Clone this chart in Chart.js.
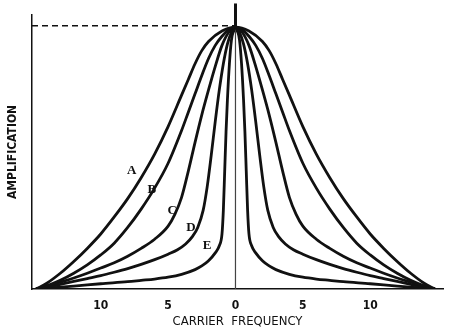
<!DOCTYPE html>
<html>
<head>
<meta charset="utf-8">
<script src="https://cdn.jsdelivr.net/npm/chart.js@4"></script>
<style>
  body { margin: 0; background: #fff; }
</style>
</head>
<body>
<canvas id="resonanceChart" width="457" height="333"></canvas>
<script>
// Resonance curves (offset from carrier, relative amplification)
const curveNames = ["A", "B", "C", "D", "E"];

const offsetA = [0, 1, 2, 2.5, 3, 3.5, 4, 5, 6, 7, 8, 9, 10, 11, 12, 13, 14, 14.8];
const ampA = [1, 0.985, 0.945, 0.91, 0.86, 0.8, 0.74, 0.62, 0.515, 0.425, 0.345, 0.275, 0.21, 0.155, 0.105, 0.06, 0.022, 0];

const offsetB = [0, 0.5, 1, 1.5, 2, 2.5, 3, 3.5, 4, 5, 6, 7, 8, 9, 10, 11, 12, 13, 14, 14.8];
const ampB = [1, 0.99, 0.965, 0.93, 0.88, 0.815, 0.745, 0.675, 0.605, 0.48, 0.385, 0.305, 0.235, 0.175, 0.13, 0.092, 0.06, 0.033, 0.012, 0];

const offsetC = [0, 0.5, 1, 1.5, 2, 2.5, 3, 3.5, 4, 4.5, 5, 6, 7, 8, 9, 10, 11, 12, 13, 14, 14.8];
const ampC = [1, 0.98, 0.93, 0.85, 0.76, 0.665, 0.56, 0.45, 0.35, 0.285, 0.24, 0.19, 0.155, 0.125, 0.1, 0.08, 0.06, 0.042, 0.026, 0.01, 0];

const offsetD = [0, 0.3, 0.6, 0.9, 1.2, 1.5, 1.8, 2.1, 2.4, 2.8, 3.2, 3.7, 4.3, 5, 6, 7, 8, 9, 10, 11, 12, 13, 14, 14.8];
const ampD = [1, 0.98, 0.935, 0.86, 0.76, 0.64, 0.51, 0.39, 0.3, 0.235, 0.2, 0.172, 0.15, 0.133, 0.112, 0.094, 0.078, 0.064, 0.051, 0.04, 0.029, 0.018, 0.007, 0];

const offsetE = [0, 0.15, 0.3, 0.45, 0.6, 0.7, 0.8, 0.9, 1, 1.2, 1.5, 2, 2.5, 3, 4, 5, 6, 7, 8, 10, 12, 13.5, 14.8];
const ampE = [1, 0.985, 0.95, 0.86, 0.72, 0.6, 0.45, 0.3, 0.21, 0.165, 0.138, 0.108, 0.088, 0.074, 0.056, 0.045, 0.038, 0.033, 0.028, 0.02, 0.011, 0.005, 0];

const xTicks = [-10, -5, 0, 5, 10];

// where the curve letters sit on the plate (frequency, amplification)
const labelX = [-7.7, -6.2, -4.7, -3.3, -2.1];
const labelY = [0.45, 0.38, 0.30, 0.235, 0.165];

// curves are symmetric about the carrier: plot both sidebands
function bothSides(offsets, amps) {
  const pts = [];
  for (let i = offsets.length - 1; i > 0; i--) pts.push({ x: -offsets[i], y: amps[i] });
  for (let i = 0; i < offsets.length; i++) pts.push({ x: offsets[i], y: amps[i] });
  return pts;
}

const curves = [
  bothSides(offsetA, ampA),
  bothSides(offsetB, ampB),
  bothSides(offsetC, ampC),
  bothSides(offsetD, ampD),
  bothSides(offsetE, ampE),
];

const ink = "#111";
const fontFamily = "'DejaVu Sans Condensed', 'DejaVu Sans'";

const datasets = curves.map((pts, i) => ({
  label: curveNames[i],
  data: pts,
  borderColor: ink,
  borderWidth: 2.8,
  pointRadius: 0,
  cubicInterpolationMode: "monotone",
  fill: false,
}));

// carrier line and the level of the peak
datasets.push({
  label: "carrier",
  data: [{ x: 0, y: 0 }, { x: 0, y: 1 }],
  borderColor: "#444",
  borderWidth: 1.2,
  pointRadius: 0,
});
datasets.push({
  label: "carrier top",
  data: [{ x: 0, y: 0.98 }, { x: 0, y: 1.09 }],
  borderColor: ink,
  borderWidth: 3,
  pointRadius: 0,
  clip: false,
});
datasets.push({
  label: "peak level",
  data: [{ x: -15.1, y: 1.005 }, { x: 0, y: 1.005 }],
  borderColor: ink,
  borderWidth: 1.6,
  borderDash: [6, 4],
  pointRadius: 0,
});

const curveLetters = {
  id: "curveLetters",
  afterDatasetsDraw(chart) {
    const { ctx, scales } = chart;
    ctx.save();
    ctx.fillStyle = ink;
    ctx.font = "bold 13px 'Liberation Serif'";
    ctx.textAlign = "center";
    ctx.textBaseline = "middle";
    curveNames.forEach((name, i) => {
      ctx.fillText(name, scales.x.getPixelForValue(labelX[i]), scales.y.getPixelForValue(labelY[i]));
    });
    ctx.restore();
  },
};

new Chart(document.getElementById("resonanceChart").getContext("2d"), {
  type: "line",
  data: { datasets: datasets },
  plugins: [curveLetters],
  options: {
    responsive: false,
    animation: false,
    layout: { padding: { top: 15, right: 14, left: 7, bottom: 5 } },
    plugins: { legend: { display: false }, tooltip: { enabled: false } },
    scales: {
      x: {
        type: "linear",
        min: -15.1,
        max: 15.4,
        grid: { display: false },
        border: { display: true, color: ink, width: 1.5 },
        afterBuildTicks: (axis) => {
          axis.ticks = xTicks.map((v) => ({ value: v }));
        },
        ticks: {
          color: ink,
          font: { family: fontFamily, size: 12, weight: "bold", lineHeight: 1 },
          padding: 3,
          callback: (v) => Math.abs(v),
        },
        title: {
          display: true,
          text: "CARRIER  FREQUENCY",
          color: ink,
          font: { family: fontFamily, size: 13, lineHeight: 1 },
          padding: { top: 0, bottom: 0 },
        },
      },
      y: {
        min: 0,
        max: 1.046,
        grid: { display: false },
        border: { display: true, color: ink, width: 1.5 },
        ticks: { display: false },
        title: {
          display: true,
          text: "AMPLIFICATION",
          color: ink,
          font: { family: fontFamily, size: 12, weight: "bold", lineHeight: 1 },
          padding: { top: 0, bottom: 5 },
        },
      },
    },
  },
});
</script>
</body>
</html>
